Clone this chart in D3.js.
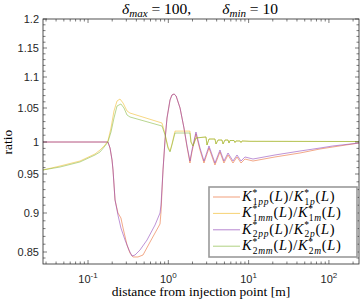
<!DOCTYPE html>
<html>
<head>
<meta charset="utf-8">
<script src="https://cdn.jsdelivr.net/npm/d3@7"></script>
<style>
body { margin: 0; background: #fff; }
svg { display: block; }
</style>
</head>
<body>
<script>
// distance [m] and ratio for each curve
var x1pp = [0.0275, 0.177, 0.188, 0.199, 0.2047, 0.217, 0.236, 0.257, 0.273, 0.306, 0.333, 0.363, 0.419, 0.484, 0.592, 0.788, 0.811, 0.859, 0.910, 0.963, 1.05, 1.11, 1.18, 1.25, 1.40, 1.567, 1.71, 1.86, 1.97, 2.21, 2.48, 2.78, 3.21, 3.81, 4.40, 4.93, 5.54, 6.39, 7.17, 8.04, 9.01, 11.34, 21.3, 43.6, 77.5, 112, 237];
var y1pp = [1.0, 1.0, 0.9906, 0.9719, 0.9563, 0.9167, 0.900, 0.8936, 0.8808, 0.859, 0.8483, 0.8417, 0.8417, 0.845, 0.8628, 0.8859, 0.9013, 0.9563, 1.0029, 1.0353, 1.0629, 1.071, 1.0726, 1.0694, 1.05, 1.0206, 0.9922, 0.9672, 0.9844, 1.012, 0.9875, 0.9672, 0.9906, 0.9641, 0.9844, 0.9672, 0.9797, 0.9672, 0.9766, 0.9672, 0.9734, 0.9703, 0.9766, 0.9828, 0.9891, 0.9922, 0.9984];

var x2pp = [0.0275, 0.177, 0.188, 0.199, 0.2047, 0.217, 0.236, 0.257, 0.289, 0.3237, 0.3529, 0.385, 0.444, 0.543, 0.683, 0.788, 0.811, 0.859, 0.910, 0.963, 1.05, 1.11, 1.18, 1.25, 1.40, 1.567, 1.71, 1.86, 1.97, 2.21, 2.48, 2.78, 3.21, 3.81, 4.40, 4.93, 5.54, 6.39, 7.17, 8.04, 9.01, 11.34, 21.3, 43.6, 77.5, 112, 237];
var y2pp = [1.0, 1.0, 0.9906, 0.9719, 0.9563, 0.9167, 0.8974, 0.8808, 0.8654, 0.8526, 0.8433, 0.845, 0.8526, 0.8654, 0.8846, 0.900, 0.9103, 0.9563, 1.0029, 1.0353, 1.0629, 1.071, 1.0726, 1.0694, 1.05, 1.0206, 0.9938, 0.9703, 0.9875, 1.0147, 0.9906, 0.9703, 0.9938, 0.9672, 0.9875, 0.9703, 0.9828, 0.9703, 0.9797, 0.9703, 0.9766, 0.9734, 0.9797, 0.9859, 0.9906, 0.9938, 0.9984];

var xTail = [2.029, 2.21, 2.946, 3.031, 3.21, 3.81, 3.924, 4.16, 4.66, 4.80, 5.08, 5.54, 5.696, 5.86, 6.576, 6.77, 6.964, 7.82, 8.04, 8.27, 10.4, 237];
var yTail = [0.9938, 1.0059, 1.0074, 0.9953, 1.0044, 1.0044, 0.9969, 1.0029, 1.0029, 0.9969, 1.0029, 1.0029, 0.9984, 1.0022, 1.0022, 0.9992, 1.0015, 1.0015, 0.9992, 1.0015, 1.001, 1.0007];

var x1mm = [0.0275, 0.0448, 0.0794, 0.1222, 0.141, 0.1626, 0.177, 0.1932, 0.2106, 0.2296, 0.25, 0.273, 0.306, 0.333, 0.834, 0.910, 0.991, 1.05, 1.11, 1.211, 1.86, 1.916].concat(xTail);
var y1mm = [0.9563, 0.9625, 0.9703, 0.9813, 0.9875, 0.9953, 1.0015, 1.0206, 1.0456, 1.0613, 1.0645, 1.0581, 1.0456, 1.0426, 1.0279, 1.0118, 0.9922, 0.9859, 0.9969, 1.016, 1.016, 1.0].concat(yTail);

var x2mm = [0.0275, 0.0448, 0.0794, 0.1222, 0.141, 0.1626, 0.177, 0.1932, 0.2106, 0.2296, 0.257, 0.2805, 0.306, 0.333, 0.834, 0.910, 0.991, 1.05, 1.11, 1.211, 1.86, 1.916].concat(xTail);
var y2mm = [0.9563, 0.9609, 0.9688, 0.9797, 0.9844, 0.9938, 1.0, 1.0147, 1.0353, 1.0532, 1.0565, 1.05, 1.0397, 1.0368, 1.0235, 1.0103, 0.9906, 0.9844, 0.9953, 1.0132, 1.0132, 1.0].concat(yTail);

var yTicks = [0.85, 0.9, 0.95, 1, 1.05, 1.1, 1.15, 1.2];
var xTicks = [0.1, 1, 10, 100];

var series = [
  {name: ["1pp", "1p"], xs: x1pp, ys: y1pp, color: "#e8642a"},
  {name: ["1mm", "1m"], xs: x1mm, ys: y1mm, color: "#f0b820"},
  {name: ["2pp", "2p"], xs: x2pp, ys: y2pp, color: "#8a3cb4"},
  {name: ["2mm", "2m"], xs: x2mm, ys: y2mm, color: "#7fb536"}
];

var W = 360, H = 302;
var margin = {top: 19, right: 1, bottom: 38, left: 43};
var width = W - margin.left - margin.right;
var height = H - margin.top - margin.bottom;

var svg = d3.select("body").append("svg").attr("width", W).attr("height", H);
var g = svg.append("g").attr("transform", "translate(" + margin.left + "," + margin.top + ")");

var x = d3.scaleLog().domain([0.0275, 237]).range([0, width]);
var y = d3.scaleLinear()
  .domain([1.2, 1.15, 1.1, 1.05, 1, 0.95, 0.9, 0.85, 0.83])
  .range([0, 29, 58, 89, 123, 155, 194, 233, 245]);

var serif = "'Liberation Serif', 'DejaVu Serif', serif";
var sans = "'Liberation Sans', Arial, sans-serif";
var axisCol = "#262626";

// curves
var line = d3.line().x(function(d) { return x(d[0]); }).y(function(d) { return y(d[1]); });
series.forEach(function(s) {
  var pts = s.xs.map(function(v, i) { return [v, s.ys[i]]; });
  g.append("path").datum(pts).attr("d", line)
    .attr("fill", "none").attr("stroke", s.color).attr("stroke-opacity", 0.62).attr("stroke-width", 0.9);
});

// minor ticks
var xMinor = [];
[0.01, 0.1, 1, 10, 100].forEach(function(dec) {
  for (var k = 1; k < 10; k++) {
    var v = dec * k;
    if (v >= 0.0275 && v <= 237) xMinor.push(v);
  }
});
var yMinor = d3.range(84, 121).map(function(v) { return v / 100; });

var ticks = g.append("g").attr("stroke", axisCol).attr("stroke-width", 0.6);
xMinor.forEach(function(v) {
  var len = xTicks.indexOf(v) >= 0 ? 4 : 2.5;
  ticks.append("line").attr("x1", x(v)).attr("x2", x(v)).attr("y1", height).attr("y2", height - len);
  ticks.append("line").attr("x1", x(v)).attr("x2", x(v)).attr("y1", 0).attr("y2", len);
});
yMinor.forEach(function(v) {
  var major = yTicks.some(function(t) { return Math.abs(t - v) < 1e-6; });
  var len = major ? 4 : 2.5;
  ticks.append("line").attr("x1", 0).attr("x2", len).attr("y1", y(v)).attr("y2", y(v));
  ticks.append("line").attr("x1", width).attr("x2", width - len).attr("y1", y(v)).attr("y2", y(v));
});

// frame
g.append("rect").attr("width", width).attr("height", height)
  .attr("fill", "none").attr("stroke", axisCol).attr("stroke-width", 0.8);

// tick labels
g.selectAll(".ylab").data(yTicks).enter().append("text")
  .attr("x", -4).attr("y", function(d) { return y(d); }).attr("dy", "0.35em")
  .attr("text-anchor", "end").attr("font-family", sans).attr("font-size", 11).attr("fill", axisCol)
  .text(function(d) { return d3.format("")(d); });

xTicks.forEach(function(v) {
  var t = g.append("text").attr("x", x(v)).attr("y", height + 19)
    .attr("text-anchor", "middle").attr("font-family", sans).attr("font-size", 11).attr("fill", axisCol);
  t.append("tspan").text("10");
  t.append("tspan").attr("dy", -5).attr("font-size", 8).text(Math.round(Math.log10(v)));
});

// axis titles
svg.append("text").attr("x", margin.left + width / 2).attr("y", 296)
  .attr("text-anchor", "middle").attr("font-family", serif).attr("font-size", 13.5).attr("fill", "#000")
  .text("distance from injection point [m]");
svg.append("text").attr("transform", "translate(12," + (margin.top + y(1)) + ") rotate(-90)")
  .attr("text-anchor", "middle").attr("font-family", serif).attr("font-size", 13.5).attr("fill", "#000")
  .text("ratio");

// title
var title = svg.append("text").attr("x", margin.left + width / 2 - 1).attr("y", 14)
  .attr("text-anchor", "middle").attr("font-family", serif).attr("font-size", 15.5).attr("fill", "#000");
title.append("tspan").attr("font-style", "italic").text("δ");
title.append("tspan").attr("font-style", "italic").attr("font-size", 11).attr("dy", 3).text("max");
title.append("tspan").attr("dy", -3).text(" = 100,\u2003\u2003");
title.append("tspan").attr("font-style", "italic").text("δ");
title.append("tspan").attr("font-style", "italic").attr("font-size", 11).attr("dy", 3).text("min");
title.append("tspan").attr("dy", -3).text(" = 10");

// legend
var lg = svg.append("g").attr("transform", "translate(209,187)");
lg.append("rect").attr("width", 148).attr("height", 70)
  .attr("fill", "#fff").attr("stroke", "#9a9a9a").attr("stroke-width", 1.6);
series.forEach(function(s, i) {
  var ly = 10 + i * 16.4;
  lg.append("line").attr("x1", 4).attr("x2", 31).attr("y1", ly).attr("y2", ly)
    .attr("stroke", s.color).attr("stroke-opacity", 0.62);
  var t = lg.append("text").attr("x", 33).attr("y", ly + 4)
    .attr("font-family", serif).attr("font-size", 14.5).attr("letter-spacing", 0.7).attr("fill", "#000");
  [0, 1].forEach(function(j) {
    t.append("tspan").attr("font-style", "italic").text("K");
    t.append("tspan").attr("font-size", 9.5).attr("dy", -5.5).text("*");
    t.append("tspan").attr("font-size", 9.5).attr("dx", -5).attr("dy", 9)
      .text(s.name[j].charAt(0));
    t.append("tspan").attr("font-size", 9.5).attr("font-style", "italic").text(s.name[j].slice(1));
    t.append("tspan").attr("dy", -3.5).text("(");
    t.append("tspan").attr("font-style", "italic").text("L");
    t.append("tspan").text(j === 0 ? ")/" : ")");
  });
});
</script>
</body>
</html>
